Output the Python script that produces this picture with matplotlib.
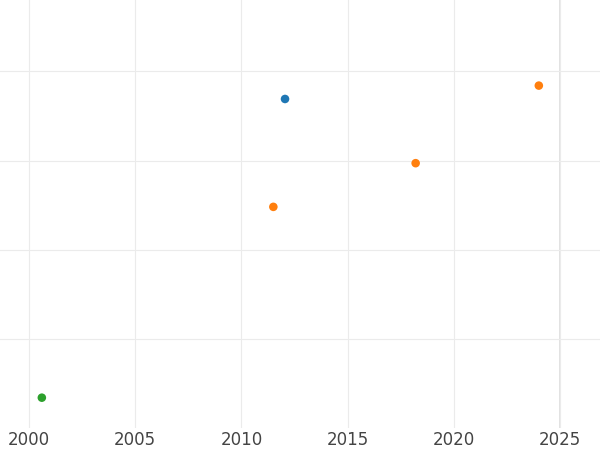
import matplotlib
matplotlib.use("Agg")
import matplotlib.pyplot as plt

years = [2000.6, 2011.5, 2012.05, 2018.2, 2024.0]
values = [0.34, 2.48, 3.69, 2.97, 3.84]
colors = ["#2ca02c", "#ff7f0e", "#1f77b4", "#ff7f0e", "#ff7f0e"]
xticks = [2000, 2005, 2010, 2015, 2020, 2025]

fig = plt.figure(figsize=(6, 4.5), dpi=100)
ax = fig.add_axes([0, 22 / 450, 1, 428 / 450])
ax.scatter(years, values, c=colors, s=38, zorder=3, linewidths=0)
ax.set_xlim(1998.63, 2026.88)
ax.set_ylim(0, 4.8)
ax.set_xticks(xticks)
ax.set_yticks([1, 2, 3, 4])
ax.set_yticklabels([])
ax.grid(True, color="#ebebeb", linewidth=0.8)
ax.axvline(2025, color="#dddddd", linewidth=1.2, zorder=1)
for s in ax.spines.values():
    s.set_visible(False)
ax.tick_params(length=0, labelsize=12, colors="#444444", pad=2)
fig.savefig("out.png")
